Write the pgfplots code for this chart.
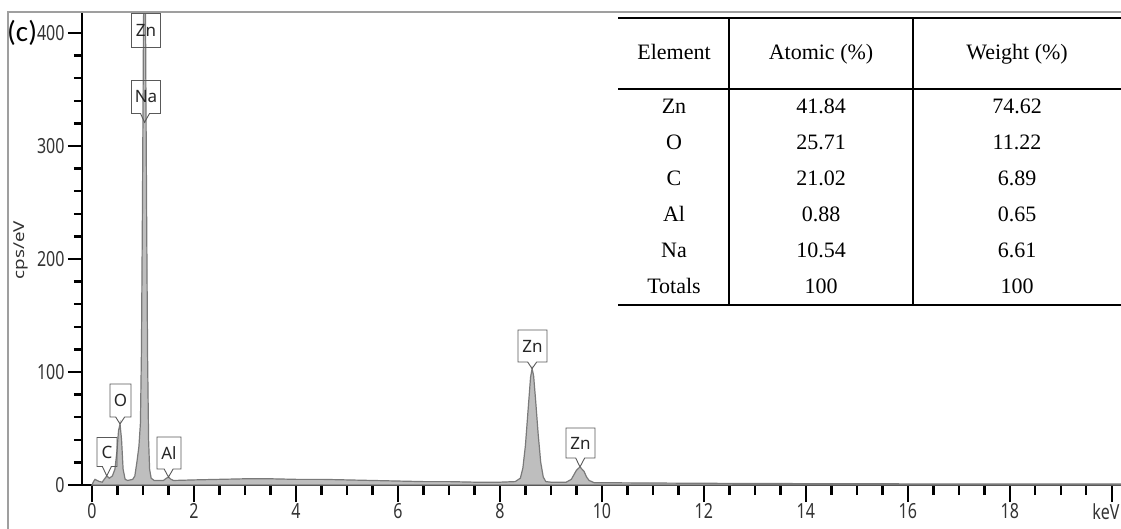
\documentclass[border=0pt]{standalone}
\usepackage{pgfplots}
\pgfplotsset{compat=1.18}
\usepackage{fontspec}
\setmainfont{Liberation Serif}
\newfontfamily\uisans{Noto Sans}
\newfontfamily\calib{Carlito}
\usetikzlibrary{shapes.callouts}
\definecolor{specfill}{HTML}{BEBEBE}
\definecolor{specline}{HTML}{7A7A7A}
\definecolor{ticktext}{HTML}{333333}
\newcommand\st[1]{\scalebox{1}[1.3]{#1}}
\begin{document}
\begin{tikzpicture}
\useasboundingbox (0,0) rectangle (1121bp,529bp);
\begin{axis}[
  at={(82bp,44bp)}, anchor=south west,
  scale only axis, width=1039bp, height=473bp,
  xmin=-0.196, xmax=20.18, ymin=0, ymax=418.6,
  axis lines=left,
  axis line style={-, line width=2.6bp, black},
  tick align=outside,
  tick style={line width=2.3bp, black},
  major tick length=14bp, minor tick length=8bp,
  major x tick style={/pgfplots/major tick length=17bp},
  minor x tick style={/pgfplots/minor tick length=10bp},
  xtick={0,2,...,20},
  xticklabels={\st{0},\st{2},\st{4},\st{6},\st{8},\st{10},\st{12},\st{14},\st{16},\st{18},\st{\hspace*{-12bp}keV}},
  minor x tick num=3,
  ytick={0,100,...,400},
  yticklabels={\st{0},\st{100},\st{200},\st{300},\st{400}},
  minor y tick num=4,
  tick label style={font=\uisans\fontsize{16bp}{16bp}\selectfont, text=ticktext},
  xticklabel style={yshift=-1bp},
]
\addplot[draw=specline, line width=1.2bp, fill=specfill] coordinates {
(0.00,0) (0.03,3) (0.06,5) (0.10,4) (0.15,3) (0.20,2.5) (0.24,5) (0.29,8) (0.34,6) (0.40,8)
(0.45,14) (0.49,30) (0.52,48) (0.55,54) (0.58,40) (0.61,14) (0.65,5) (0.70,4) (0.75,4.5)
(0.80,5) (0.84,8) (0.88,20) (0.92,34) (0.95,55) (0.97,120) (0.99,250) (1.01,408) (1.03,480)
(1.05,408) (1.07,250) (1.09,115) (1.11,40) (1.13,14) (1.16,6) (1.22,4) (1.30,4) (1.40,4)
(1.46,6) (1.50,7) (1.55,5) (1.60,4) (2.0,4.5) (2.5,5) (3.0,5.5) (3.5,5.5) (4.0,5) (4.5,5)
(5.0,4.5) (5.5,4) (6.0,3.5) (6.5,3) (7.0,3) (7.5,2.5) (8.0,2.5) (8.3,3) (8.4,6) (8.45,15)
(8.5,35) (8.55,65) (8.6,95) (8.63,103) (8.66,97) (8.7,75) (8.75,45) (8.8,20) (8.85,7)
(8.9,3) (9.0,2.5) (9.3,2.5) (9.4,5) (9.45,9) (9.5,13) (9.57,16) (9.65,12) (9.7,7) (9.75,4)
(9.85,2) (10,2) (12,1.5) (14,1.2) (16,1) (18,1) (20.18,1)
} \closedcycle;
\coordinate (pC) at (axis cs:0.29,8);
\coordinate (pO) at (axis cs:0.55,54);
\coordinate (pAl) at (axis cs:1.50,7);
\coordinate (pNa) at (axis cs:1.03,321);
\coordinate (pZa) at (axis cs:8.63,103);
\coordinate (pZb) at (axis cs:9.57,16);
\end{axis}
% frame
\draw[gray!75, line width=1.5bp] (8bp,0) -- (8bp,517bp) -- (1121bp,517bp);
\begin{scope}[yshift=529bp, x=1bp, y=-1bp]
  \tikzset{peak/.style={rectangle callout, draw=black!65, line width=0.9bp, inner sep=1bp,
     callout pointer width=9bp, font=\uisans\fontsize{17bp}{17bp}\selectfont, text=black!85}}
  \node[peak, minimum width=20bp, minimum height=29bp, callout absolute pointer={(pC)}] at (107,452) {C};
  \node[peak, minimum width=21bp, minimum height=33bp, callout absolute pointer={(pO)}] at (120.5,400.5) {O};
  \node[peak, minimum width=24bp, minimum height=32bp, callout absolute pointer={(pAl)}] at (169,453) {Al};
  \node[peak, minimum width=29bp, minimum height=33bp, callout absolute pointer={(pNa)}] at (146,97) {Na};
  \node[draw=black!65, line width=0.9bp, inner sep=1bp, minimum width=29bp, minimum height=34bp,
     font=\uisans\fontsize{17bp}{17bp}\selectfont, text=black!85] at (146,30.5) {Zn};
  \node[peak, minimum width=29bp, minimum height=32bp, callout absolute pointer={(pZa)}] at (532.5,346) {Zn};
  \node[peak, minimum width=29bp, minimum height=30bp, callout absolute pointer={(pZb)}] at (580.5,443) {Zn};
  % y label and panel letter
  \node[rotate=90, font=\uisans\fontsize{15bp}{15bp}\selectfont, text=ticktext] at (21,250) {\scalebox{1.25}[1]{cps/eV}};
  \node[font=\calib\fontsize{29bp}{29bp}\selectfont, anchor=west, inner sep=0pt] at (7,33) {(c)};
  % table
  \draw[line width=1.5bp] (618,18) -- (1121,18);
  \draw[line width=1.5bp] (618,89) -- (1121,89);
  \draw[line width=1.5bp] (618,305) -- (1121,305);
  \draw[line width=1.5bp] (729,18) -- (729,305);
  \draw[line width=1.5bp] (913,18) -- (913,305);
  \tikzset{tt/.style={font=\fontsize{22bp}{22bp}\selectfont, inner sep=0pt, anchor=base}}
  \foreach \cx/\txt in {674/Element, 821/{Atomic (\%)}, 1017/{Weight (\%)}}
     \node[tt] at (\cx,60) {\txt};
  \foreach \ry/\a/\b/\c in {114/Zn/41.84/74.62, 150/O/25.71/11.22, 186/C/21.02/6.89,
       222/Al/0.88/0.65, 258/Na/10.54/6.61, 294/Totals/100/100} {
     \node[tt] at (674,\ry) {\a};
     \node[tt] at (821,\ry) {\b};
     \node[tt] at (1017,\ry) {\c};
  }
\end{scope}
\end{tikzpicture}
\end{document}
